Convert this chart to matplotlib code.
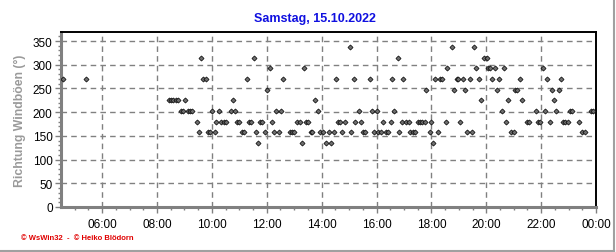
import numpy as np
import matplotlib
matplotlib.use('Agg')
from matplotlib import pyplot as plt
from matplotlib.lines import Line2D

# Zeitpunkte (HH:MM) und Richtung der Windböen in Grad
zeiten = ['04:35', '05:25',
          '08:26', '08:31', '08:36', '08:42', '08:46', '08:52', '08:57', '09:01',
          '09:08', '09:12', '09:17', '09:27', '09:32', '09:36', '09:40', '09:47',
          '09:52', '09:56', '10:00', '10:07', '10:10', '10:15', '10:20', '10:26',
          '10:31', '10:42', '10:46', '10:50', '10:55', '11:00', '11:05', '11:10',
          '11:16', '11:21', '11:26', '11:32', '11:36', '11:40', '11:45', '11:50',
          '11:56', '12:00', '12:07', '12:12',
          '12:16', '12:20', '12:26', '12:31', '12:35', '12:50', '12:55', '13:00',
          '13:07', '13:13', '13:16', '13:21', '13:25', '13:30', '13:36', '13:40',
          '13:45', '13:51', '13:56', '14:02', '14:10', '14:15', '14:20', '14:26',
          '14:31', '14:36', '14:41', '14:45', '14:50', '15:01', '15:05', '15:10',
          '15:14', '15:21', '15:25', '15:30', '15:35', '15:45', '15:50', '15:54',
          '16:00', '16:04',
          '16:09', '16:15', '16:20', '16:25', '16:31', '16:34', '16:39', '16:46',
          '16:50', '16:55', '16:59', '17:05', '17:10', '17:14', '17:20', '17:25',
          '17:30', '17:35', '17:40', '17:45', '17:49', '17:56', '18:00', '18:04',
          '18:09', '18:15', '18:18', '18:23', '18:31', '18:35', '18:44', '18:50',
          '18:55', '18:59', '19:03', '19:10', '19:14', '19:18', '19:25', '19:29',
          '19:34', '19:38', '19:45', '19:49', '19:55',
          '20:01', '20:04', '20:09', '20:13', '20:20', '20:24', '20:28', '20:35',
          '20:39', '20:44', '20:48', '20:55', '21:00', '21:03', '21:08', '21:14',
          '21:19', '21:30', '21:34', '21:49', '21:54', '21:58', '22:04', '22:09',
          '22:13', '22:20', '22:24', '22:28', '22:33', '22:39', '22:44', '22:48',
          '22:53', '22:58', '23:03', '23:08', '23:23', '23:30', '23:35', '23:49',
          '23:54']

richtung = [270, 270,
            225, 225, 225, 225, 225, 202.5, 202.5, 225,
            202.5, 202.5, 202.5, 180, 157.5, 315, 270, 270,
            157.5, 157.5, 202.5, 157.5, 180, 202.5, 180, 180,
            180, 202.5, 225, 202.5, 180, 180, 157.5, 157.5,
            270, 180, 180, 315, 157.5, 135, 180, 180,
            157.5, 247.5, 292.5, 180,
            157.5, 202.5, 157.5, 202.5, 270, 157.5, 157.5, 157.5,
            180, 180, 135, 292.5, 180, 180, 157.5, 157.5,
            225, 202.5, 157.5, 157.5, 135, 157.5, 135, 157.5,
            270, 180, 180, 157.5, 180, 337.5, 157.5, 270,
            180, 202.5, 180, 157.5, 157.5, 270, 202.5, 157.5,
            202.5, 157.5,
            157.5, 180, 157.5, 157.5, 180, 270, 202.5, 315,
            157.5, 180, 270, 180, 180, 157.5, 157.5, 157.5,
            180, 180, 180, 180, 247.5, 157.5, 180, 135,
            270, 157.5, 270, 270, 180, 292.5, 337.5, 247.5,
            270, 270, 180, 270, 247.5, 157.5, 270, 157.5,
            337.5, 292.5, 270, 225, 315,
            315, 292.5, 292.5, 270, 292.5, 247.5, 270, 202.5,
            292.5, 180, 225, 157.5, 157.5, 247.5, 247.5, 270,
            225, 180, 180, 202.5, 180, 180, 292.5, 202.5,
            270, 180, 247.5, 225, 202.5, 247.5, 270, 180,
            180, 180, 202.5, 202.5, 180, 157.5, 157.5, 202.5,
            202.5]

x_ticks = [6, 8, 10, 12, 14, 16, 18, 20, 22, 24]
y_ticks = [0, 50, 100, 150, 200, 250, 300, 350]

stunden = np.array([int(z[:2]) + int(z[3:]) / 60 for z in zeiten])

plt.rcParams['font.family'] = ['Liberation Sans', 'DejaVu Sans']

fig = plt.figure(figsize=(6.16, 2.53), dpi=100)
ax = fig.add_axes([61 / 616, 1 - 208 / 253, 535 / 616, 175 / 253])

ax.plot(stunden, richtung, 'D', markersize=2.6, markerfacecolor='#6e6e6e',
        markeredgecolor='black', markeredgewidth=0.5, linestyle='none', zorder=3)

ax.set_xlim(4.5, 24)
ax.set_ylim(0, 369)
ax.set_xticks(x_ticks)
ax.set_xticklabels(['%02d:00' % (h % 24) for h in x_ticks])
ax.set_xticks(np.arange(5, 24.01, 0.5), minor=True)
ax.set_yticks(y_ticks)
ax.set_yticks(np.arange(0, 361, 10), minor=True)

ax.grid(True, which='major', color='#808080', linestyle=(0, (4, 3)), linewidth=1)
ax.set_axisbelow(True)

for side in ['left', 'bottom']:
    ax.spines[side].set_color('#808080')
    ax.spines[side].set_linewidth(2.2)
for side in ['top', 'right']:
    ax.spines[side].set_color('black')
    ax.spines[side].set_linewidth(1.4)

ax.tick_params(which='both', direction='out', color='#808080', labelsize=8.5)
ax.tick_params(which='major', length=4, width=1)
ax.tick_params(which='minor', length=2.5, width=1)
ax.tick_params(axis='x', pad=4)
ax.tick_params(axis='y', pad=2)

ax.set_ylabel('Richtung Windböen (°)', color='#9a9a9a', fontsize=8.8,
              fontweight='bold', labelpad=5)

fig.text(315 / 616, 1 - 19 / 253, 'Samstag, 15.10.2022', color='#1010e0',
         fontsize=9, fontweight='bold', ha='center', va='center')
fig.text(21 / 616, 1 - 239 / 253, '© WsWin32  -  © Heiko Blödorn', color='#e00000',
         fontsize=5.5, fontweight='bold', ha='left', va='center')

# grauer Rahmen rechts und unten
fig.add_artist(Line2D([613.5 / 616, 613.5 / 616], [1 - 251.5 / 253, 1], color='#a0a0a0', lw=1.5))
fig.add_artist(Line2D([0, 613.5 / 616], [1 - 251.5 / 253, 1 - 251.5 / 253], color='#a0a0a0', lw=1.5))

fig.savefig('out.png', dpi=100)
